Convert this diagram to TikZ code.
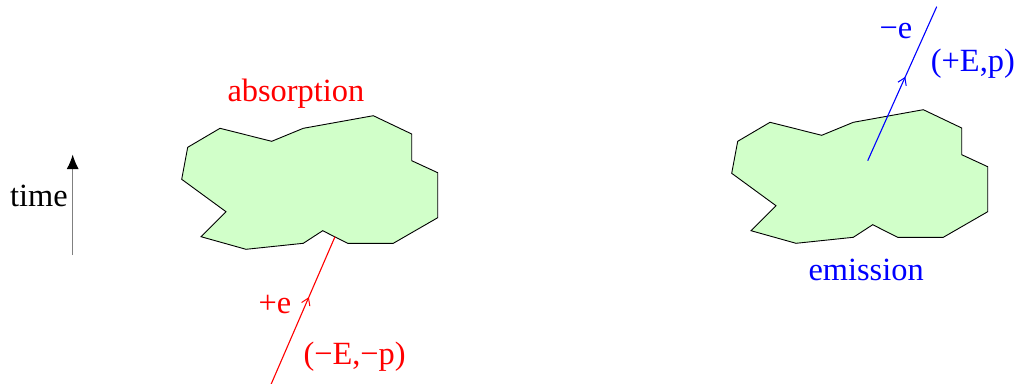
\documentclass[tikz,border=0pt]{standalone}
\usepackage{fontspec}
\setmainfont{Liberation Serif}
\usetikzlibrary{arrows.meta,decorations.markings}
\definecolor{blobfill}{RGB}{209,255,201}
\tikzset{
  blob/.style={draw=black, line width=0.9pt, fill=blobfill, line join=miter},
  lbl/.style={inner sep=0pt, anchor=base west, font=\fontsize{32.4}{38}\selectfont},
  particle/.style={line width=1.1pt, postaction={decorate},
    decoration={markings, mark=at position #1 with {\arrow{Straight Barb[length=7pt,width=9pt,line width=1pt]}}}},
}
\newcommand{\blobpath}{(220,128.3) -- (271.7,141.3) -- (303.3,128.3) -- (373.3,115.7) -- (411.7,134) -- (411.7,160.7) -- (437.7,172.7) -- (437.7,217.7) -- (393.3,243.3) -- (347.7,243.3) -- (322.7,230.7) -- (303.3,243.3) -- (246,249.3) -- (201,236.7) -- (226,211.7) -- (181.7,179.3) -- (187.7,147.3) -- cycle}
\begin{document}
\begin{tikzpicture}[x=1pt,y=-1pt]
\useasboundingbox (0,0) rectangle (1016,383);
% time arrow
\coordinate (t0) at (72.7,255);
\coordinate (t1) at (72.7,154.5);
\draw[gray, line width=1.2pt, -{Latex[length=14.5pt,width=12pt,color=black]}] (t0) -- (t1);
\node[lbl] (time) at (10,206.7) {time};
% absorption blob
\draw[blob] \blobpath;
\node[lbl, text=red] (abs) at (227.3,101.7) {absorption};
\coordinate (r0) at (271.2,384);
\coordinate (r1) at (335,236.7);
\draw[red, particle=0.59] (r0) -- (r1);
\node[lbl, text=red] (pe) at (258.3,313.3) {+e};
\node[lbl, text=red] (mEp) at (303.3,364) {(−E,−p)};
% emission blob
\begin{scope}[shift={(550,-6)}]
\draw[blob] \blobpath;
\end{scope}
\node[lbl, text=blue] (emi) at (808.3,280) {emission};
\coordinate (b0) at (867.7,160.7);
\coordinate (b1) at (936.7,6.7);
\draw[blue, particle=0.545] (b0) -- (b1);
\node[lbl, text=blue] (me) at (879.3,38.3) {−e};
\node[lbl, text=blue] (pEp) at (930.7,71) {(+E,p)};
\end{tikzpicture}
\end{document}
